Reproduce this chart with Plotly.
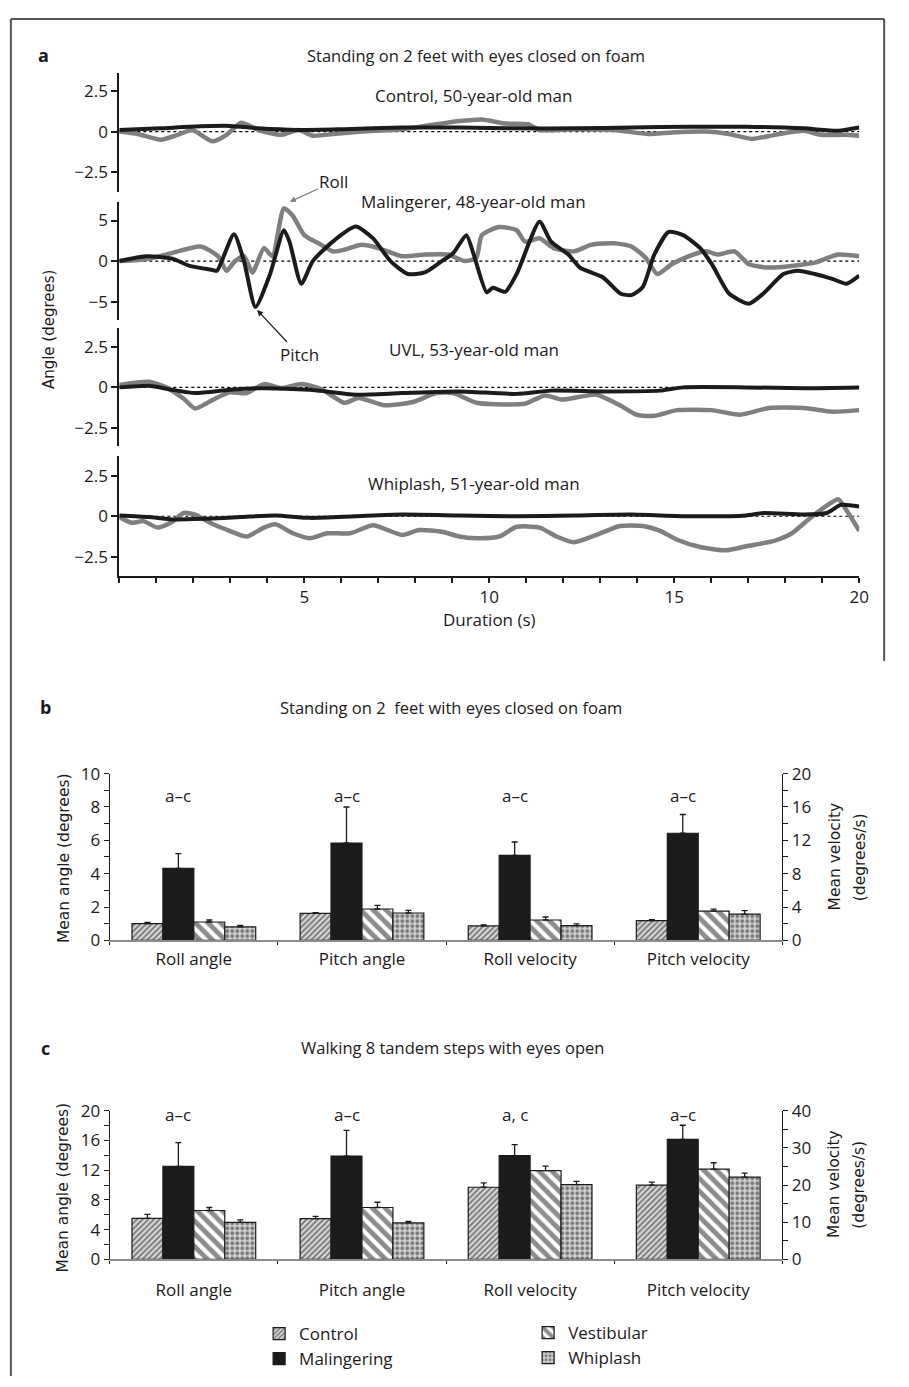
import plotly.graph_objects as go

W, H = 909, 1387
def px(x): return x / W
def py(y): return 1 - y / H

# ---------------- Panel a data (time in s, angle in degrees) ----------------
ctrl_roll_t = [0, 0.5, 1.12, 1.58, 1.97, 2.52, 2.9, 3.29, 3.76, 4.38, 4.85, 5.23, 5.77, 6.55, 7.64, 8.57, 9.19, 9.8,
               10.43, 11.05, 11.36, 12.29, 13.37, 14.3, 14.93, 15.86, 16.48, 17.1, 17.72, 18.5, 18.97, 19.58, 20]
ctrl_roll = [0, -0.15, -0.5, -0.2, 0.1, -0.6, -0.2, 0.55, 0.1, -0.2, 0.1, -0.25, -0.15, 0, 0.15, 0.45, 0.65, 0.75,
             0.5, 0.45, 0.1, 0.15, 0.1, -0.15, -0.05, 0, -0.15, -0.45, -0.2, 0.05, -0.2, -0.2, -0.25]
ctrl_pitch_t = [0, 1.12, 1.9, 3.0, 3.76, 4.85, 6.08, 7.64, 9.19, 10.74, 12.29, 13.84, 15.4, 16.94, 18.5, 19.43, 20]
ctrl_pitch = [0.1, 0.2, 0.3, 0.35, 0.2, 0.1, 0.15, 0.25, 0.25, 0.2, 0.2, 0.25, 0.3, 0.3, 0.2, 0.05, 0.25]

mal_roll_t = [0, 0.65, 1.27, 2.2, 2.67, 2.9, 3.13, 3.37, 3.6, 3.91, 4.14, 4.45, 4.69, 5.0, 5.46, 5.77, 6.08, 6.55,
              7.0, 7.64, 8.26, 8.88, 9.34, 9.65, 9.8, 10.27, 10.74, 10.97, 11.36, 11.74, 12.29, 12.75, 13.37, 13.84,
              14.23, 14.54, 14.93, 15.4, 15.86, 16.17, 16.63, 17.02, 17.56, 18.18, 18.8, 19.43, 20]
mal_roll = [0, 0.2, 0.8, 1.8, 0.6, -1.2, 0, 0.6, -1.4, 1.6, 0.6, 6.5, 5.6, 3.2, 2.0, 1.2, 1.4, 2.0,
            1.6, 0.6, 0.8, 0.8, 0, 0.4, 3.2, 4.2, 3.8, 2.4, 2.8, 1.6, 1.2, 2.0, 2.2, 1.8,
            0.4, -1.6, -0.4, 0.6, 1.2, 0.8, 1.2, -0.4, -0.8, -0.6, -0.2, 0.8, 0.6]
mal_pitch_t = [0, 0.73, 1.43, 1.9, 2.52, 2.64, 3.1, 3.37, 3.68, 4.07, 4.45, 4.6, 4.92, 5.23, 5.77, 6.39, 6.86, 7.33,
               7.8, 8.26, 8.72, 9.03, 9.38, 9.58, 9.93, 10.1, 10.43, 10.74, 11.36, 11.67, 12.14, 12.45, 13.07, 13.54,
               13.84, 14.15, 14.46, 14.85, 15.24, 15.7, 16.02, 16.48, 17.02, 17.41, 17.95, 18.34, 18.8, 19.27, 19.66, 20]
mal_pitch = [0, 0.6, 0.3, -0.6, -1.1, -1.2, 3.3, 0, -5.67, -1.7, 3.8, 2.4, -2.8, 0, 2.4, 4.25, 2.8, 0,
             -1.6, -1.4, 0, 1.0, 3.2, 0.8, -3.85, -3.3, -3.8, -1.6, 4.85, 2.4, 0.8, -0.8, -2.0, -4.0,
             -4.2, -3.2, 0.8, 3.6, 3.2, 1.6, -0.4, -4.0, -5.26, -4.0, -1.6, -1.2, -1.6, -2.2, -2.8, -1.8]

uvl_roll_t = [0, 0.8, 1.27, 1.74, 2.05, 2.5, 2.98, 3.44, 3.91, 4.38, 4.92, 5.46, 6.08, 6.47, 7.17, 7.94, 8.57, 9.03,
              9.65, 10.43, 10.97, 11.51, 11.98, 12.9, 13.53, 14.0, 14.46, 15.08, 16.0, 16.78, 17.56, 18.5, 19.27, 20]
uvl_roll = [0.15, 0.35, 0, -0.7, -1.3, -0.8, -0.3, -0.35, 0.2, -0.05, 0.2, -0.1, -0.95, -0.65, -1.1, -0.9, -0.35, -0.35,
            -0.95, -1.05, -1.0, -0.5, -0.75, -0.45, -1.1, -1.7, -1.75, -1.4, -1.4, -1.68, -1.27, -1.27, -1.5, -1.4]
uvl_pitch_t = [0, 0.8, 1.43, 2.05, 2.98, 3.76, 5.15, 6.39, 7.64, 9.19, 10.74, 11.67, 13.07, 14.62, 15.24, 16.94, 18.5, 20]
uvl_pitch = [0, 0.1, -0.15, -0.35, -0.15, -0.05, -0.15, -0.45, -0.35, -0.25, -0.4, -0.2, -0.25, -0.2, 0, 0, -0.05, 0]

wh_roll_t = [0, 0.34, 0.65, 1.04, 1.43, 1.74, 2.05, 2.5, 2.98, 3.44, 3.91, 4.22, 4.69, 5.15, 5.62, 6.24, 6.86, 7.64,
             8.1, 8.72, 9.19, 9.65, 10.27, 10.74, 11.36, 11.82, 12.29, 12.9, 13.53, 14.15, 14.62, 15.08, 15.7, 16.4,
             16.94, 17.72, 18.18, 18.65, 19.12, 19.43, 19.66, 20]
wh_roll = [-0.05, -0.4, -0.3, -0.7, -0.35, 0.2, 0.1, -0.45, -0.9, -1.25, -0.7, -0.5, -1.05, -1.35, -1.05, -1.05, -0.55, -1.15,
           -0.85, -0.95, -1.25, -1.35, -1.25, -0.65, -0.7, -1.25, -1.6, -1.15, -0.6, -0.6, -0.9, -1.45, -1.9, -2.1,
           -1.85, -1.5, -1.05, -0.15, 0.65, 1.05, 0.35, -0.9]
wh_pitch_t = [0, 0.8, 1.43, 2.36, 3.29, 4.22, 5.15, 6.39, 7.64, 9.19, 10.74, 12.29, 13.84, 15.4, 16.94, 17.41, 18.5,
              19.12, 19.5, 20]
wh_pitch = [0.05, -0.05, -0.2, -0.15, -0.05, 0.05, -0.1, 0, 0.1, 0.05, 0, 0.05, 0.1, 0, 0.05, 0.2, 0.1, 0.2, 0.7, 0.6]

subplot_titles = ["Control, 50-year-old man", "Malingerer, 48-year-old man",
                  "UVL, 53-year-old man", "Whiplash, 51-year-old man"]

# ---------------- Panels b, c data ----------------
categories = ["Roll angle", "Pitch angle", "Roll velocity", "Pitch velocity"]
groups = ["Control", "Malingering", "Vestibular", "Whiplash"]
# angles (deg) for first two categories, velocities (deg/s) for last two
b_control = [1.00, 1.62, 1.73, 2.36]
b_control_err = [0.08, 0.04, 0.12, 0.12]
b_maling = [4.32, 5.84, 10.2, 12.85]
b_maling_err = [0.88, 2.16, 1.6, 2.25]
b_vest = [1.10, 1.88, 2.44, 3.50]
b_vest_err = [0.12, 0.22, 0.36, 0.24]
b_whip = [0.81, 1.64, 1.77, 3.15]
b_whip_err = [0.09, 0.16, 0.20, 0.42]

c_control = [5.50, 5.47, 19.4, 19.95]
c_control_err = [0.54, 0.31, 1.2, 0.85]
c_maling = [12.5, 13.9, 27.9, 32.3]
c_maling_err = [3.2, 3.45, 3.0, 3.8]
c_vest = [6.57, 6.97, 23.9, 24.3]
c_vest_err = [0.40, 0.71, 1.2, 1.7]
c_whip = [4.98, 4.90, 20.1, 22.1]
c_whip_err = [0.32, 0.20, 0.9, 1.1]

b_sig = ["a\u2013c", "a\u2013c", "a\u2013c", "a\u2013c"]
c_sig = ["a\u2013c", "a\u2013c", "a, c", "a\u2013c"]

# ---------------- Styling ----------------
LBL = "Open Sans"
TTL = "DejaVu Sans"
GRAY = "#7f7f7f"
BLK = "#1c1a1b"

fig = go.Figure()

# ---- panel a ----
ydoms = [(61.7, 182.7), (192.7, 313.0), (321.7, 441.7), (451.7, 573.3)]
yranges = [(-3.7, 3.63), (-7.25, 7.35), (-3.63, 3.63), (-3.67, 3.7)]
traces_a = [(ctrl_roll_t, ctrl_roll, ctrl_pitch_t, ctrl_pitch),
            (mal_roll_t, mal_roll, mal_pitch_t, mal_pitch),
            (uvl_roll_t, uvl_roll, uvl_pitch_t, uvl_pitch),
            (wh_roll_t, wh_roll, wh_pitch_t, wh_pitch)]
xdom_a = [px(120.6), px(868.8)]
for k in range(4):
    n = k + 1
    xa = "x" if n == 1 else f"x{n}"
    ya = "y" if n == 1 else f"y{n}"
    rt, rv, pt, pv = traces_a[k]
    fig.add_trace(go.Scatter(x=rt, y=rv, xaxis=xa, yaxis=ya, mode="lines",
                             line=dict(color=GRAY, width=4.5, shape="spline", smoothing=0.6),
                             showlegend=False, name="Roll"))
    fig.add_trace(go.Scatter(x=pt, y=pv, xaxis=xa, yaxis=ya, mode="lines",
                             line=dict(color=BLK, width=4, shape="spline", smoothing=0.6),
                             showlegend=False, name="Pitch"))
    fig.add_shape(type="line", xref=xa, yref=ya, x0=0, x1=20, y0=0, y1=0,
                  line=dict(color="black", width=1.2, dash="dot"), layer="below")
    yt = [-5, 0, 5] if k == 1 else [-2.5, 0, 2.5]
    ytt = ["\u22125", "0", "5"] if k == 1 else ["\u22122.5", "0", "2.5"]
    d0, d1 = ydoms[k]
    fig.layout[f"yaxis{'' if n == 1 else n}"] = dict(
        domain=[py(d1), py(d0)], range=list(yranges[k]), anchor=xa,
        tickvals=yt, ticktext=ytt, ticks="outside", ticklen=6, tickwidth=1.5,
        tickcolor=BLK, showline=True, linecolor=BLK, linewidth=2,
        showgrid=False, zeroline=False, tickfont=dict(family=LBL, size=17, color=BLK))
    xdict = dict(domain=xdom_a, range=[0, 20], anchor=ya, showgrid=False, zeroline=False)
    if n == 4:
        xdict.update(showline=True, linecolor=BLK, linewidth=2, ticks="outside", ticklen=5,
                     tickwidth=1.5, tickcolor=BLK, tickvals=[5, 10, 15, 20],
                     minor=dict(tick0=0, dtick=1, ticks="outside", ticklen=5, tickwidth=1.5, tickcolor=BLK),
                     tickfont=dict(family=LBL, size=17, color=BLK),
                     title=dict(text="Duration (s)", font=dict(family=LBL, size=17, color=BLK), standoff=4))
    else:
        xdict.update(visible=False)
    fig.layout[f"xaxis{'' if n == 1 else n}"] = xdict

# ---- panels b and c (bar charts) ----
BW = 0.184
offs = [-0.368 + i * BW for i in range(4)]
styles = [
    dict(color="white", pattern=dict(shape="/", fgcolor="#1e1e1e", bgcolor="#dcdcdc", size=4, solidity=0.5),
         line=dict(color=BLK, width=1.2)),
    dict(color=BLK, line=dict(color=BLK, width=1.2)),
    dict(color="white", pattern=dict(shape="\\", fgcolor=BLK, bgcolor="white", size=9, solidity=0.55),
         line=dict(color=BLK, width=1.2)),
    dict(color="white", pattern=dict(shape=".", fgcolor="#1e1e1e", bgcolor="#d2d2d2", size=5, solidity=0.45),
         line=dict(color=BLK, width=1.2)),
]

def add_bar_panel(vals, errs, xa, yl, yr, show_leg):
    for i in range(4):
        for part, ya, idx in (("ang", yl, [0, 1]), ("vel", yr, [2, 3])):
            leg = "legend" if i < 2 else "legend2"
            fig.add_trace(go.Bar(
                x=idx, y=[vals[i][j] for j in idx], xaxis=xa, yaxis=ya,
                width=BW, offset=offs[i], name=groups[i], legend=leg,
                legendgroup=groups[i], showlegend=(show_leg and part == "ang"),
                marker=styles[i],
                error_y=dict(type="data", symmetric=False, array=[errs[i][j] for j in idx],
                             arrayminus=[0, 0], color=BLK, thickness=1.3, width=3)))

add_bar_panel([b_control, b_maling, b_vest, b_whip],
              [b_control_err, b_maling_err, b_vest_err, b_whip_err], "x5", "y5", "y6", True)
add_bar_panel([c_control, c_maling, c_vest, c_whip],
              [c_control_err, c_maling_err, c_vest_err, c_whip_err], "x6", "y7", "y8", False)

xdom_b = [px(111), px(791)]
for xa_name, ya_name, standoff in (("xaxis5", "y5", 2), ("xaxis6", "y7", 14)):
    fig.layout[xa_name] = dict(
        domain=xdom_b, anchor=ya_name, range=[-0.5, 3.5], tickvals=[0, 1, 2, 3], ticktext=categories,
        ticks="", showline=True, linecolor="#8c8c8c", linewidth=2, showgrid=False, zeroline=False,
        ticklabelstandoff=standoff,
        minor=dict(tick0=0.5, dtick=1, ticks="outside", ticklen=3, tickwidth=1, tickcolor=BLK),
        tickfont=dict(family=LBL, size=17, color=BLK))

def yax(dom, rng, dt, mdt, anchor, side="left", overlay=None):
    d = dict(domain=dom, range=rng, dtick=dt, tick0=0, anchor=anchor, side=side,
             ticks="outside", ticklen=5, tickwidth=1, tickcolor=BLK,
             minor=dict(dtick=mdt, tick0=0, ticks="outside", ticklen=5, tickwidth=1, tickcolor=BLK),
             showline=True, linecolor=BLK, linewidth=1.2, showgrid=False, zeroline=False,
             tickfont=dict(family=LBL, size=17, color=BLK))
    if overlay:
        d["overlaying"] = overlay
    return d

dom_b = [py(944), py(774.5)]
dom_c = [py(1268.3), py(1117.3)]
fig.layout["yaxis5"] = yax(dom_b, [0, 10], 2, 1, "x5")
fig.layout["yaxis6"] = yax(dom_b, [0, 20], 4, 2, "x5", side="right", overlay="y5")
fig.layout["yaxis7"] = yax(dom_c, [0, 20], 4, 2, "x6")
fig.layout["yaxis8"] = yax(dom_c, [0, 40], 10, 5, "x6", side="right", overlay="y7")

for j in range(4):
    fig.add_annotation(text=b_sig[j], xref="x5", yref="y5", x=j - 0.092, y=8.7, showarrow=False,
                       xanchor="center", yanchor="middle", font=dict(family=LBL, size=17, color=BLK))
    fig.add_annotation(text=c_sig[j], xref="x6", yref="y7", x=j - 0.092, y=19.5, showarrow=False,
                       xanchor="center", yanchor="middle", font=dict(family=LBL, size=17, color=BLK))

# ---- text: panel labels, titles, axis titles ----
def ann(text, x, y, size=17, fam=LBL, angle=0, bold=False, color=BLK):
    fig.add_annotation(text=f"<b>{text}</b>" if bold else text, xref="paper", yref="paper",
                       x=px(x), y=py(y), showarrow=False, textangle=angle,
                       xanchor="center", yanchor="middle",
                       font=dict(family=fam, size=size, color=color))

for k in range(4):
    ann(subplot_titles[k], 479, [85, 193, 343, 479][k], size=17)

ann("a", 44, 44, size=18, bold=True)
ann("b", 46, 707, size=18, bold=True)
ann("c", 46, 1053, size=18, bold=True)
ann("Standing on 2 feet with eyes closed on foam", 481, 44, size=16.5)
ann("Standing on 2  feet with eyes closed on foam", 456, 707, size=16.5)
ann("Walking 8 tandem steps with eyes open", 458, 1053, size=16.5)
ann("Angle (degrees)", 49, 322, size=15, fam=TTL, angle=-90)
ann("Mean angle (degrees)", 64, 860, size=15.5, fam=TTL, angle=-90)
ann("Mean angle (degrees)", 64, 1195, size=15.5, fam=TTL, angle=-90)
for yc in (859, 1192):
    ann("Mean velocity", 844, yc, size=15.5, fam=TTL, angle=-90)
    ann("(degrees/s)", 869, yc, size=15.5, fam=TTL, angle=-90)

# Roll / Pitch pointers
fig.add_annotation(text="Roll", xref="paper", yref="paper", x=px(293), y=py(193),
                   ax=44, ay=-20, showarrow=True, arrowhead=2, arrowsize=1, arrowwidth=1.2,
                   arrowcolor=GRAY, font=dict(family=LBL, size=17, color=BLK))
fig.add_annotation(text="Pitch", xref="paper", yref="paper", x=px(260), y=py(303),
                   ax=42, ay=45, showarrow=True, arrowhead=2, arrowsize=1, arrowwidth=1.2,
                   arrowcolor=BLK, font=dict(family=LBL, size=17, color=BLK))

# frame
for x0, y0, x1, y1 in ((11, 7, 11, 1387), (11, 7, 894, 7), (894, 7, 894, 660)):
    fig.add_shape(type="line", xref="paper", yref="paper", x0=px(x0), y0=py(y0), x1=px(x1), y1=py(y1),
                  line=dict(color="#555555", width=2))

fig.update_layout(
    width=W, height=H, autosize=False, margin=dict(l=0, r=0, t=0, b=0),
    paper_bgcolor="white", plot_bgcolor="white", barmode="overlay",
    legend=dict(x=px(262), y=py(1326), xanchor="left", yanchor="top", itemwidth=30,
                font=dict(family=LBL, size=17, color=BLK), tracegroupgap=0, bgcolor="rgba(0,0,0,0)"),
    legend2=dict(x=px(534), y=py(1325), xanchor="left", yanchor="top", itemwidth=30,
                 font=dict(family=LBL, size=17, color=BLK), tracegroupgap=0, bgcolor="rgba(0,0,0,0)"),
)

fig.write_html("out.html", config={"displayModeBar": False},
               post_script="document.body.style.margin='0px';")
